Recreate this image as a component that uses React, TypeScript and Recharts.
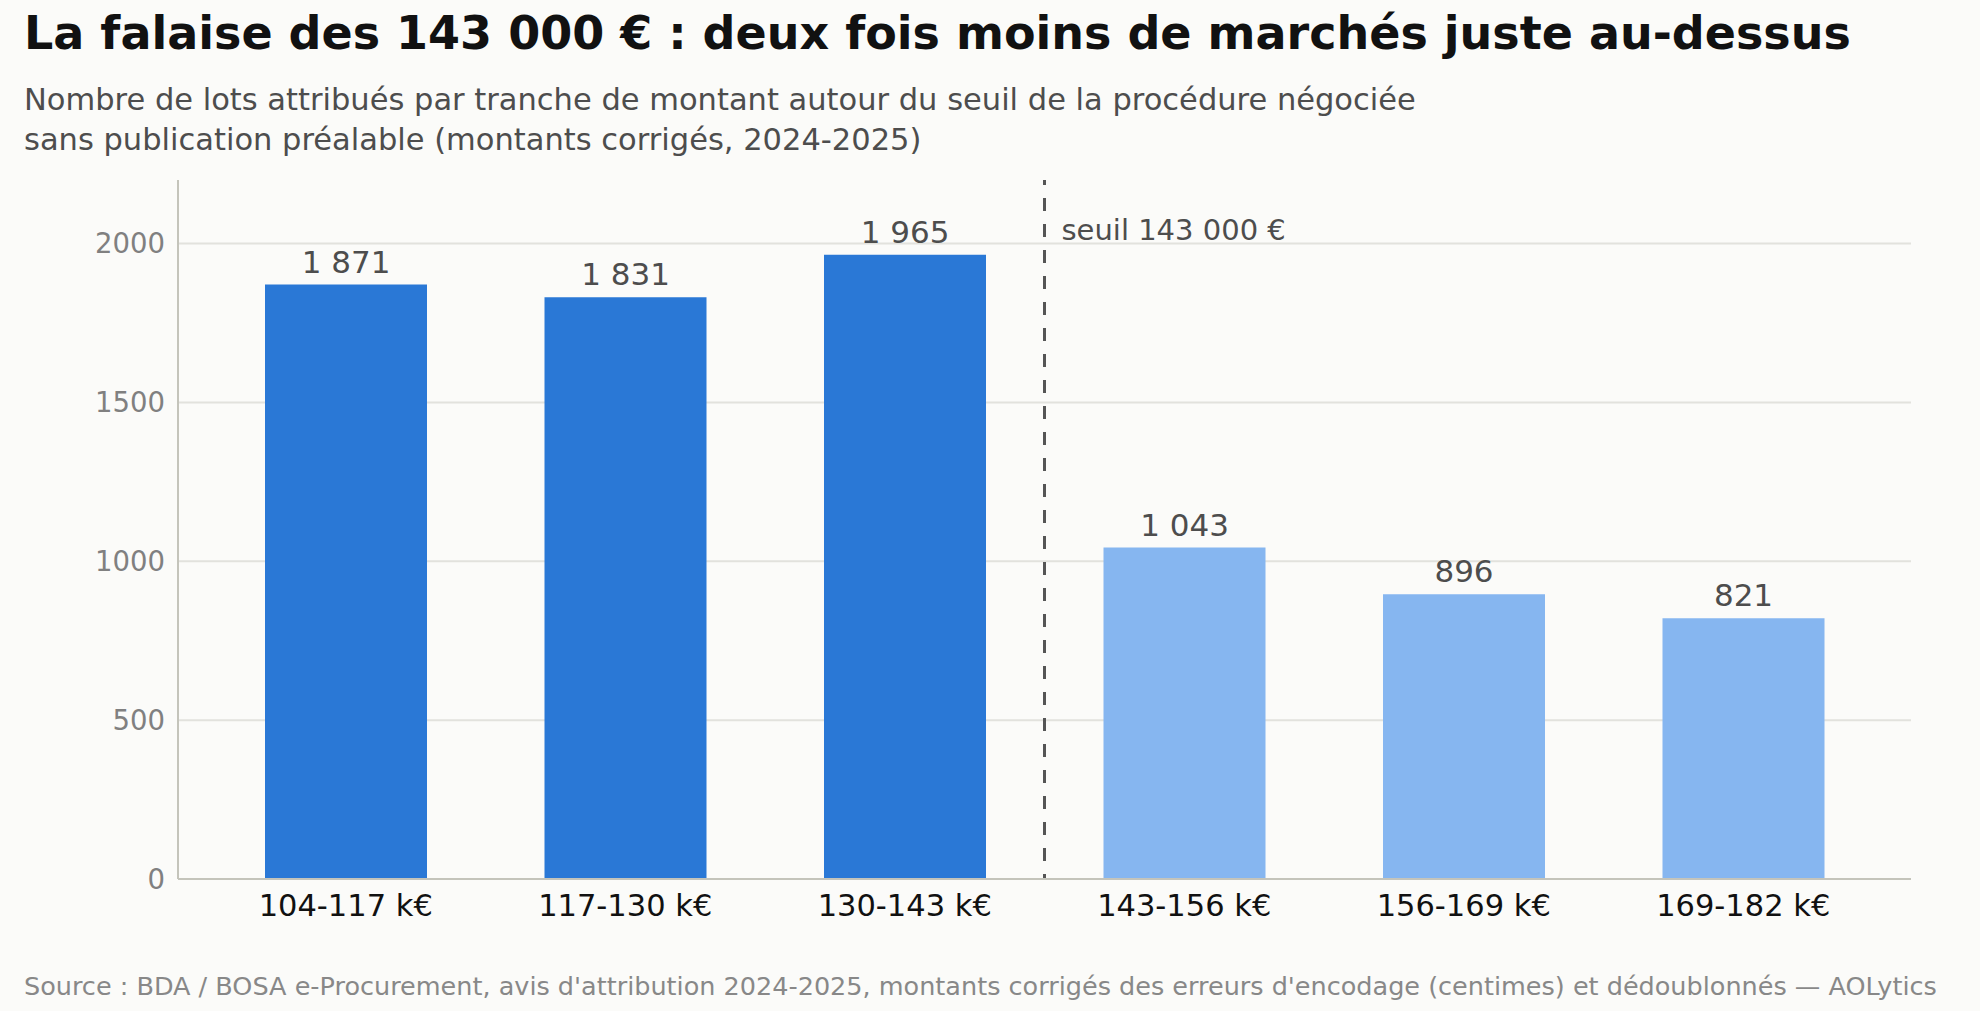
import { BarChart, Bar, XAxis, YAxis, CartesianGrid, ReferenceLine, LabelList, Label, Cell } from "recharts";

const categories = ["104-117 k€", "117-130 k€", "130-143 k€", "143-156 k€", "156-169 k€", "169-182 k€"];
const lots = [1871, 1831, 1965, 1043, 896, 821];
const belowThreshold = [true, true, true, false, false, false];
const yTicks = [0, 500, 1000, 1500, 2000];

const data = categories.map((c, i) => ({ tranche: c, lots: lots[i] }));

const FONT = "'DejaVu Sans', sans-serif";
const fmt = (v: number) => String(v).replace(/\B(?=(\d{3})+(?!\d))/g, " ");

const ThresholdLabel = (props: any) => {
	const vb = props.viewBox || {};
	return (
		<text x={vb.x + 17} y={vb.y + 60} fill="#4d4d4d" fontSize={29} fontFamily={FONT}>
			seuil 143 000 €
		</text>
	);
};

export default function App() {
	return (
		<div style={{ position: "relative", width: 1980, height: 1011, background: "#fbfbf9", fontFamily: FONT, overflow: "hidden" }}>
			<style>{`body{margin:0}`}</style>
			<div style={{ position: "absolute", left: 24, top: 6, fontSize: 46, fontWeight: "bold", color: "#111", whiteSpace: "nowrap" }}>
				La falaise des 143 000 € : deux fois moins de marchés juste au-dessus
			</div>
			<div style={{ position: "absolute", left: 24, top: 80, fontSize: 30.5, lineHeight: "40px", color: "#4d4d4d", whiteSpace: "nowrap" }}>
				Nombre de lots attribués par tranche de montant autour du seuil de la procédure négociée
				<br />
				sans publication préalable (montants corrigés, 2024-2025)
			</div>
			<div style={{ position: "absolute", left: 24, top: 971, fontSize: 25.5, color: "#888", whiteSpace: "nowrap" }}>
				Source : BDA / BOSA e-Procurement, avis d'attribution 2024-2025, montants corrigés des erreurs d'encodage (centimes) et dédoublonnés — AOLytics
			</div>
			<div style={{ position: "absolute", left: 0, top: 0 }}>
				<BarChart
					width={1980}
					height={1011}
					data={data}
					margin={{ top: 180, right: 69, bottom: 72, left: 78 }}
				>
					<CartesianGrid vertical={false} horizontalValues={yTicks} stroke="#e2e2dd" strokeWidth={2} />
					<XAxis
						dataKey="tranche"
						padding={{ left: 28, right: 28 }}
						height={60}
						tickLine={false}
						tickSize={0}
						tickMargin={15}
						axisLine={{ stroke: "#c4c4bb", strokeWidth: 2 }}
						tick={{ fill: "#111", fontSize: 30.5, fontFamily: FONT }}
					/>
					<YAxis
						width={100}
						domain={[0, 2200]}
						ticks={yTicks}
						tickLine={false}
						tickSize={0}
						tickMargin={13}
						axisLine={{ stroke: "#c4c4bb", strokeWidth: 2 }}
						tick={{ fill: "#808080", fontSize: 27.5, fontFamily: FONT }}
					/>
					<Bar dataKey="lots" barSize={162} isAnimationActive={false}>
						{data.map((d, i) => (
							<Cell key={d.tranche} fill={belowThreshold[i] ? "#2a78d6" : "#86b6f0"} />
						))}
						<LabelList dataKey="lots" position="top" offset={12} formatter={(v: any) => fmt(Number(v))} fill="#4d4d4d" fontSize={31} fontFamily={FONT} />
					</Bar>
					<ReferenceLine x="130-143 k€" position="end" stroke="#555" strokeWidth={3} strokeDasharray="13 13" strokeDashoffset={8}>
						<Label content={ThresholdLabel} />
					</ReferenceLine>
				</BarChart>
			</div>
		</div>
	);
}
